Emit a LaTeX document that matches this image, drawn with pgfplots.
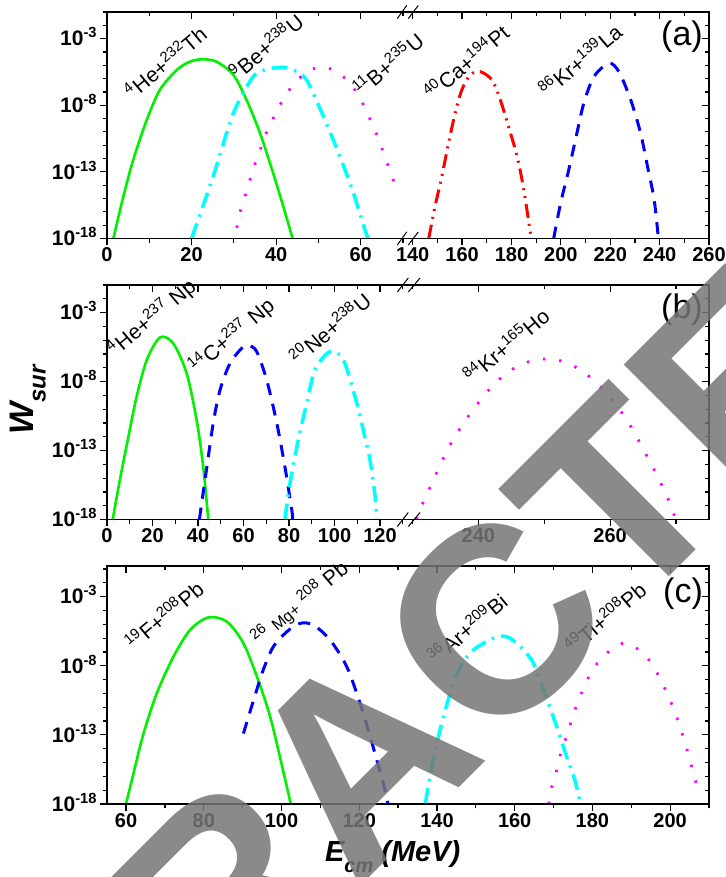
\documentclass[border=0pt]{standalone}
\usepackage{fontspec}
\setmainfont{Liberation Sans}
\usepackage{pgfplots}
\pgfplotsset{compat=1.18}
\definecolor{cgreen}{RGB}{0,240,0}
\definecolor{ccyan}{RGB}{0,255,255}
\definecolor{cmag}{RGB}{255,0,255}
\definecolor{cred}{RGB}{255,0,0}
\definecolor{cblue}{RGB}{0,0,255}
\definecolor{wm}{RGB}{117,117,117}
\newcommand{\sps}[1]{\textsuperscript{#1}}
\pgfplotsset{
  common/.style={scale only axis, axis line style={draw=none}, ymin=-18,
     major tick length=3.5pt, minor tick length=2.2pt,
     tick style={black, line width=0.6pt}},
  mainax/.style={common, axis x line*=bottom, axis y line*=left, tick align=outside,
     xticklabel style={font=\fontsize{10}{11}\selectfont\bfseries, inner sep=1pt},
     yticklabel style={font=\fontsize{10.5}{12}\selectfont\bfseries, inner sep=1pt},
     ytick={-18,-13,-8,-3},
     yticklabels={10\smash{\textsuperscript{-18}},10\smash{\textsuperscript{-13}},10\smash{\textsuperscript{-8}},10\smash{\textsuperscript{-3}}},
     minor ytick={-17,-16,...,-1}},
  overax/.style={common, axis x line*=top, axis y line*=right, tick align=inside,
     xticklabels={}, yticklabels={}, ytick={-18,-13,-8,-3}, minor ytick={-17,-16,...,-1}},
  noy/.style={ytick=\empty, minor ytick=\empty, yticklabels={}},
  gr/.style={cgreen, line width=1.3pt, smooth},
  cy/.style={ccyan, line width=1.8pt, smooth, dash pattern=on 8pt off 3.5pt on 1.2pt off 3.5pt},
  mg/.style={cmag, line width=1.4pt, smooth, dash pattern=on 1.2pt off 7pt},
  rd/.style={cred, line width=1.5pt, smooth, dash pattern=on 7pt off 3pt on 1pt off 3pt on 1pt off 3pt},
  bl/.style={cblue, line width=1.5pt, smooth, dash pattern=on 6pt off 4.5pt},
}
\begin{document}
\begin{tikzpicture}
\useasboundingbox (0,0) rectangle (362.5pt,438.5pt);
\clip (0,0) rectangle (362.5pt,438.5pt);
% ---------------- panel (a) ----------------
\begin{axis}[mainax, at={(53.5pt,319.25pt)}, anchor=south west, width=150.25pt, height=113.25pt,
  xmin=0, xmax=71.07, ymax=-1, xtick={0,20,40,60}, xticklabels={0,20,40,60}, minor xtick={10,30,50,70}]
\addplot[gr] coordinates {(1.5,-18) (3.86,-14.86) (6.2,-12.1) (9.4,-9.1) (12.5,-6.85) (16.5,-5.35) (19.6,-4.73) (22.5,-4.55) (25.9,-4.73) (29.9,-5.73) (33.0,-7.6) (36.2,-10.1) (39.3,-13.1) (41.7,-15.6) (43.9,-18)};
\addplot[cy] coordinates {(20,-18) (25.1,-13.35) (29.9,-8.6) (34.6,-5.85) (38,-5.3) (41.5,-5.15) (44.1,-5.35) (47.2,-6.1) (51.2,-8.85) (55.1,-11.85) (58.3,-14.6) (61,-17.35) (61.8,-18)};
\addplot[mg] coordinates {(30.7,-17.2) (31.5,-15.98) (32.6,-14.85) (33.8,-13.6) (35,-12.4) (36.4,-11.2) (37.8,-9.98) (39.6,-8.8) (41.7,-7.55) (44.2,-6.4) (48,-5.35) (52.3,-5.2) (56.3,-5.97) (59.4,-7.2) (61.4,-8.5) (63,-9.6) (64.6,-10.85) (65.9,-12.05) (67.3,-13.2) (68.5,-14.5)};
\end{axis}
\begin{axis}[overax, noy, at={(53.5pt,319.25pt)}, anchor=south west, width=150.25pt, height=113.25pt,
  xmin=0, xmax=71.07, ymax=-1, xtick={0,20,40,60}, minor xtick={10,30,50,70}]
\end{axis}
\begin{axis}[mainax, noy, at={(203.75pt,319.25pt)}, anchor=south west, width=150.75pt, height=113.25pt,
  xmin=137.9, xmax=260, ymax=-1, xtick={140,160,180,200,220,240,260}, xticklabels={140,160,180,200,220,240,260},
  minor xtick={150,170,190,210,230,250}]
\addplot[rd] coordinates {(146.5,-18) (149.1,-15.55) (151.8,-13.35) (154.5,-10.85) (157.2,-8.6) (159.9,-6.85) (163.3,-5.73) (167.3,-5.48) (172.1,-6.1) (175.5,-7.6) (178.8,-9.6) (182.3,-11.85) (185,-14.35) (188,-18)};
\addplot[bl] coordinates {(197.1,-18) (199.9,-15.35) (203.2,-12.85) (206.5,-10.1) (209.3,-7.85) (213.4,-5.85) (219.5,-4.85) (223.5,-5.48) (228.3,-7.6) (232.3,-10.1) (235.1,-12.6) (237.8,-15.1) (239.5,-18)};
\end{axis}
\begin{axis}[overax, at={(203.75pt,319.25pt)}, anchor=south west, width=150.75pt, height=113.25pt,
  xmin=137.9, xmax=260, ymax=-1, xtick={140,160,180,200,220,240,260}, minor xtick={150,170,190,210,230,250}]
\end{axis}
% ---------------- panel (b) ----------------
\begin{axis}[mainax, at={(53.5pt,178.75pt)}, anchor=south west, width=150.75pt, height=117.25pt,
  xmin=0, xmax=132.5, ymax=-1, xtick={0,20,40,60,80,100,120}, xticklabels={0,20,40,60,80,100,120},
  minor xtick={10,30,50,70,90,110,130}]
\addplot[gr] coordinates {(2.5,-18) (5.7,-15.1) (9.4,-12) (13,-9.1) (17.5,-6.43) (23.3,-4.8) (29.1,-5.23) (35,-7.4) (39.4,-10.8) (42.3,-14.2) (44.5,-18)};
\addplot[bl] coordinates {(40.6,-18) (43.1,-15.1) (46.7,-11) (49.7,-8.6) (54.1,-6.67) (59.9,-5.47) (62.5,-5.4) (65.8,-5.83) (70.2,-7.9) (74.6,-11) (78.2,-14.2) (81.2,-17.3) (81.6,-18)};
\addplot[cy] coordinates {(78.2,-18) (80.4,-15.4) (84.1,-12.2) (87.8,-9.57) (91.4,-7.16) (98,-5.83) (103.9,-6.43) (109.8,-9.57) (112.6,-11.5) (115.6,-13.7) (117.8,-16.3) (118.6,-18)};
\end{axis}
\begin{axis}[overax, noy, at={(53.5pt,178.75pt)}, anchor=south west, width=150.75pt, height=117.25pt,
  xmin=0, xmax=132.5, ymax=-1, xtick={0,20,40,60,80,100,120}, minor xtick={10,30,50,70,90,110,130}]
\end{axis}
\begin{axis}[mainax, noy, at={(204.25pt,178.75pt)}, anchor=south west, width=150.25pt, height=117.25pt,
  xmin=229.4, xmax=275, ymax=-1, xtick={240,260}, xticklabels={240,260}, minor xtick={230,250,270}]
\addplot[mg] coordinates {(230.6,-18) (231.1,-17.3) (232.2,-16.17) (233.3,-15) (234.4,-13.85) (235.7,-12.6) (237.1,-11.5) (238.7,-10.37) (240.6,-9.17) (242.8,-8) (245.4,-7.04) (248.2,-6.48) (250.9,-6.36) (253.6,-6.67) (256.2,-7.4) (258.8,-8.49) (260.9,-9.7) (262.6,-10.83) (264,-12) (265.3,-13.15) (266.6,-14.33) (267.8,-15.5) (268.9,-16.63) (269.8,-17.8)};
\end{axis}
\begin{axis}[overax, at={(204.25pt,178.75pt)}, anchor=south west, width=150.25pt, height=117.25pt,
  xmin=229.4, xmax=275, ymax=-1, xtick={240,260}, minor xtick={230,250,270}]
\end{axis}
% ---------------- panel (c) ----------------
\begin{axis}[mainax, at={(53.5pt,36.5pt)}, anchor=south west, width=301pt, height=119pt,
  xmin=55.1, xmax=210, ymax=-0.78, xtick={60,80,100,120,140,160,180,200}, xticklabels={60,80,100,120,140,160,180,200},
  minor xtick={70,90,110,130,150,170,190,210}]
\addplot[gr] coordinates {(60,-18) (61.9,-15.8) (64.5,-12.9) (67.9,-10) (72.2,-7.34) (76.5,-5.4) (81.2,-4.5) (85.9,-4.8) (90.2,-6.37) (94,-9.03) (97.1,-11.7) (99.6,-14.6) (102.4,-18)};
\addplot[bl] coordinates {(90.2,-12.9) (92.8,-10.5) (95.3,-8.3) (97.9,-6.62) (101.4,-5.53) (104.8,-4.93) (108.2,-5.05) (112.5,-6.13) (116.8,-8.07) (120.2,-10.7) (122.8,-13.1) (124.5,-14.8) (126.2,-16.5) (127.4,-18)};
\addplot[cy] coordinates {(137,-18) (138.7,-15.3) (140.8,-12.65) (143.4,-10) (146,-8.07) (149.4,-6.86) (154.5,-6.01) (158,-5.9) (161.4,-6.6) (164.8,-7.8) (167.8,-10) (170.8,-12.4) (173.4,-14.6) (175.5,-16.27) (176.9,-18)};
\addplot[mg] coordinates {(168.8,-18) (169.3,-17.04) (170.7,-15.66) (171.9,-14.29) (173.6,-12.9) (175.1,-11.5) (177,-10.1) (179.2,-8.74) (182.7,-7.34) (188,-6.37) (193.1,-7.1) (196.6,-8.5) (199,-9.87) (201.1,-11.25) (202.8,-12.65) (204.3,-14.02) (205.7,-15.47) (207,-16.82)};
\end{axis}
\begin{axis}[overax, at={(53.5pt,36.5pt)}, anchor=south west, width=301pt, height=119pt,
  xmin=55.1, xmax=210, ymax=-0.78, xtick={60,80,100,120,140,160,180,200}, minor xtick={70,90,110,130,150,170,190,210}]
\end{axis}
% frames and breaks
\draw[line width=0.6pt] (53.5pt,319.25pt) rectangle (354.5pt,432.5pt);
\draw[line width=0.6pt] (53.5pt,178.75pt) rectangle (354.5pt,296pt);
\draw[line width=0.6pt] (53.5pt,36.5pt) rectangle (354.5pt,155.5pt);
\foreach \yy in {319.25,432.5} {
  \draw[line width=0.5pt] (198.65pt,\yy pt-3.3pt) -- (203.35pt,\yy pt+3.3pt);
  \draw[line width=0.5pt] (204.15pt,\yy pt-3.3pt) -- (209.15pt,\yy pt+3.3pt);}
\foreach \yy in {178.75,296} {
  \draw[line width=0.5pt] (198.65pt,\yy pt-3.5pt) -- (204.15pt,\yy pt+3.5pt);
  \draw[line width=0.5pt] (204.15pt,\yy pt-3.5pt) -- (210pt,\yy pt+3.5pt);}
% curve labels
\begin{scope}[every node/.style={rotate=40, font=\fontsize{10.5}{12}\selectfont, inner sep=0pt}]
\node at (82.5pt,407.5pt) {\sps{4}He+\sps{232}Th};
\node at (133pt,415.5pt) {\sps{9}Be+\sps{238}U};
\node at (194pt,406.5pt) {\sps{11}B+\sps{235}U};
\node at (233pt,407.5pt) {\sps{40}Ca+\sps{194}Pt};
\node at (290pt,408.5pt) {\sps{86}Kr+\sps{139}La};
\node at (76pt,279.5pt) {\sps{4}He+\sps{237} Np};
\node at (116pt,270.5pt) {\sps{14}C+\sps{237} Np};
\node at (165pt,274.5pt) {\sps{20}Ne+\sps{238}U};
\node at (253pt,266pt) {\sps{84}Kr+\sps{165}Ho};
\node at (82pt,131pt) {\sps{19}F+\sps{208}Pb};
\node at (150pt,137pt) {\sps{26} {\fontsize{8}{9}\selectfont Mg+} \sps{208} Pb};
\node at (233.5pt,124.5pt) {\sps{36}Ar+\sps{209}Bi};
\node at (302.5pt,130pt) {\sps{49}Ti+\sps{208}Pb};
\end{scope}
% panel labels
\node[font=\fontsize{17}{20}\selectfont] at (341pt,420pt) {(a)};
\node[font=\fontsize{17}{20}\selectfont] at (341pt,283.5pt) {(b)};
\node[font=\fontsize{17}{20}\selectfont] at (341.5pt,141.5pt) {(c)};
% axis titles
\node[rotate=90, font=\fontsize{17}{19}\selectfont\bfseries\itshape] at (14pt,238.5pt) {W\raisebox{-6pt}{\fontsize{12}{12}\selectfont sur}};
\node[anchor=base west, font=\fontsize{14.5}{16}\selectfont\bfseries\itshape] at (159pt,7.5pt) {E\raisebox{-5.5pt}{\fontsize{10}{10}\selectfont cm} (MeV)};
% watermark
\node[rotate=45, text=wm, text opacity=0.85, inner sep=0pt, font=\fontsize{132.5}{140}\selectfont\bfseries] at (179.25pt,59pt) {RETRACTED};
\end{tikzpicture}
\end{document}
